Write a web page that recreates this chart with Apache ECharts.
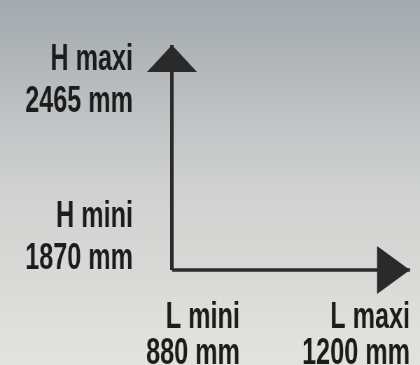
<!DOCTYPE html>
<html><head><meta charset="utf-8">
<script src="https://cdn.jsdelivr.net/npm/echarts@6/dist/echarts.min.js"></script>
<style>
html,body{margin:0;padding:0;overflow:hidden;width:420px;height:365px;background:#d0d1d0;}
/* The reference uses a condensed typeface; the canvas is drawn 1/0.7 wider and squeezed horizontally */
#c{width:600px;height:365px;transform:scaleX(0.7);transform-origin:0 0;}
</style>
</head><body><div id="c"></div>
<script>
// Data
const heightNames = ['H mini', 'H maxi'];
const heightValues = [1870, 2465];
const lengthNames = ['L mini', 'L maxi'];
const lengthValues = [880, 1200];
const unit = 'mm';

function labelFor(names, values) {
  return function (v) {
    const i = values.indexOf(v);
    return i < 0 ? '' : names[i] + '\n' + v + ' ' + unit;
  };
}
const FONT = "'Liberation Sans', Arial, sans-serif";
const INK = '#2a2a2a';

const chart = echarts.init(document.getElementById('c'), null, { renderer: 'canvas' });
chart.setOption({
  animation: false,
  backgroundColor: new echarts.graphic.LinearGradient(0, 0, 0, 1, [
    { offset: 0, color: '#a3a9ae' },
    { offset: 0.5, color: '#cfd1d0' },
    { offset: 1, color: '#e3e3de' }
  ]),
  grid: { left: 245.7, right: 14.3, top: 45, bottom: 95, containLabel: false, outerBoundsMode: 'none' },
  xAxis: {
    type: 'value', min: 752, max: 1200,
    splitLine: { show: false }, axisTick: { show: false },
    axisLine: {
      show: true, onZero: false, symbol: ['none', 'triangle'],
      symbolSize: [48, 47], symbolOffset: [0, -23.6],
      lineStyle: { color: INK, width: 3.5, cap: 'butt' }
    },
    axisLabel: {
      customValues: lengthValues, formatter: labelFor(lengthNames, lengthValues),
      align: 'right', verticalAlign: 'top', margin: 30,
      fontFamily: FONT, fontWeight: 'bold', fontSize: 36, lineHeight: 36, color: '#1c1c1c'
    }
  },
  yAxis: {
    type: 'value', min: 1751, max: 2603,
    splitLine: { show: false }, axisTick: { show: false },
    axisLine: {
      show: true, onZero: false, symbol: ['none', 'triangle'],
      symbolSize: [71.4, 27], symbolOffset: [0, -13.5],
      lineStyle: { color: INK, width: 5, cap: 'butt' }
    },
    axisLabel: {
      customValues: heightValues, formatter: labelFor(heightNames, heightValues),
      align: 'right', verticalAlign: 'middle', margin: 55.7,
      fontFamily: FONT, fontWeight: 'bold', fontSize: 36, lineHeight: 42, color: '#1c1c1c'
    }
  },
  series: []
});
</script></body></html>
